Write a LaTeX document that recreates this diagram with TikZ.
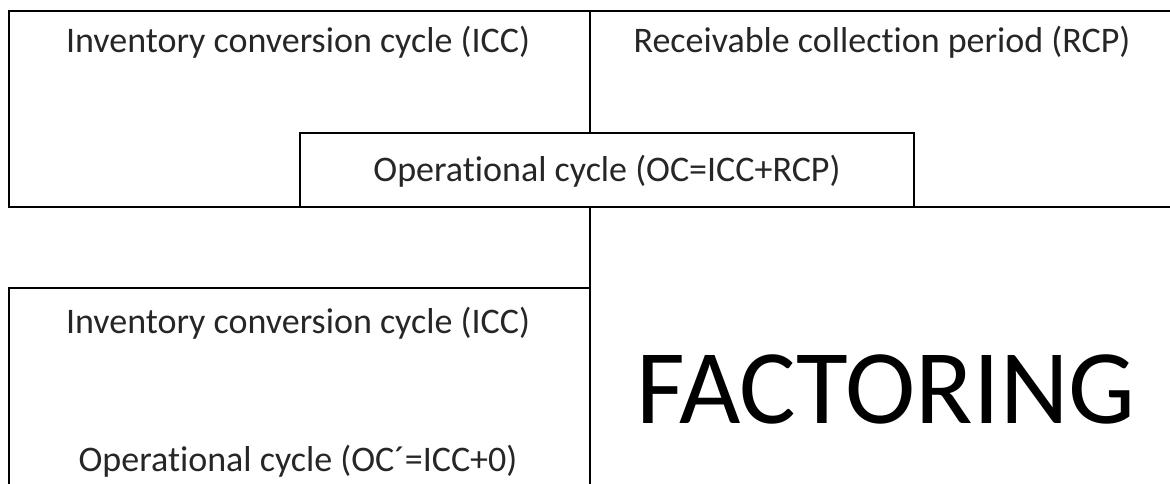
\documentclass[tikz,border=0pt]{standalone}
\usepackage{fontspec}
\setmainfont{Carlito}[RawFeature={-liga;-clig;-dlig;-calt}]
\begin{document}
\begin{tikzpicture}[x=1pt,y=-1pt,line width=1.5pt,
    lbl/.style={font=\fontsize{36}{42}\selectfont,text=black!85,anchor=base},
    big/.style={font=\fontsize{106}{120}\selectfont,anchor=base}]
    \useasboundingbox (0,0) rectangle (1170,484);
    \clip (0,0) rectangle (1170,484);

    \draw (9,11) rectangle (1190,207);
    \draw (590,11) -- (590,133);
    \draw[fill=white] (300,133) rectangle (914,207);
    \draw (590,207) -- (590,500);
    \draw (9,288) rectangle (590,500);

    \node[lbl] (icc) at (298,53) {Inventory conversion cycle (ICC)};
    \node[lbl] (rcp) at (882,53) {Receivable collection period (RCP)};
    \node[lbl] (oc) at (607,182) {Operat\kern0pt ional cycle (OC=ICC+RCP)};
    \node[lbl] (icc2) at (298,333) {Inventory conversion cycle (ICC)};
    \node[lbl] (oc2) at (298,471) {Operat\kern0pt ional cycle (OC´=ICC+0)};
    \node[big] (fact) at (886,423) {FACTORING};
\end{tikzpicture}
\end{document}
